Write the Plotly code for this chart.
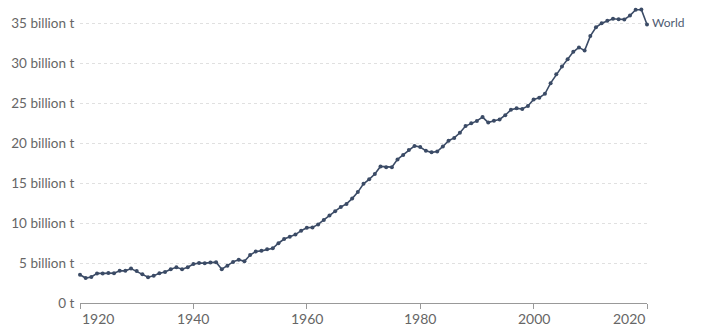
import plotly.graph_objects as go

years = list(range(1920, 2021))
emissions = [
    3.53, 3.12, 3.26, 3.70, 3.70, 3.75, 3.73, 4.02, 4.02, 4.30,
    3.99, 3.58, 3.22, 3.41, 3.71, 3.87, 4.22, 4.47, 4.22, 4.46,
    4.86, 4.99, 4.98, 5.06, 5.10, 4.22, 4.66, 5.14, 5.42, 5.21,
    6.00, 6.43, 6.52, 6.72, 6.84, 7.47, 7.99, 8.27, 8.55, 9.04,
    9.40, 9.45, 9.82, 10.38, 10.95, 11.46, 12.01, 12.39, 13.05, 13.86,
    14.90, 15.46, 16.13, 17.07, 16.98, 16.98, 17.95, 18.51, 19.13, 19.63,
    19.49, 19.02, 18.83, 18.94, 19.57, 20.29, 20.64, 21.28, 22.12, 22.48,
    22.76, 23.24, 22.56, 22.77, 22.94, 23.47, 24.16, 24.33, 24.25, 24.63,
    25.45, 25.66, 26.15, 27.48, 28.60, 29.55, 30.47, 31.40, 31.95, 31.55,
    33.36, 34.46, 34.97, 35.29, 35.53, 35.47, 35.45, 35.93, 36.65, 36.70,
    34.81,
]
series_name = "World"
y_tickvals = [0, 5, 10, 15, 20, 25, 30, 35]
y_ticktext = ["0 t", "5 billion t", "10 billion t", "15 billion t", "20 billion t",
              "25 billion t", "30 billion t", "35 billion t"]
x_tickvals = [1920, 1940, 1960, 1980, 2000, 2020]

line_color = "#3b4b66"
grey = "#666666"

fig = go.Figure()
fig.add_trace(go.Scatter(
    x=years, y=emissions, mode="lines+markers", name=series_name,
    line=dict(color=line_color, width=1.6),
    marker=dict(color=line_color, size=4),
    cliponaxis=False, showlegend=False,
))

annotations = []
for i, yr in enumerate(x_tickvals):
    anchor = "left" if i == 0 else ("right" if i == len(x_tickvals) - 1 else "center")
    annotations.append(dict(
        x=yr, y=0, xref="x", yref="paper", text=str(yr), showarrow=False,
        xanchor=anchor, yanchor="top", yshift=-5,
        font=dict(family="Lato", size=14, color=grey),
    ))
annotations.append(dict(
    x=years[-1], y=emissions[-1], xref="x", yref="y", text=series_name,
    showarrow=False, xanchor="left", yanchor="middle", xshift=3, yshift=2,
    font=dict(family="Lato", size=12, color="#4e5b72"),
))

fig.update_layout(
    width=718, height=331,
    margin=dict(l=80, r=71, t=9, b=28),
    plot_bgcolor="white", paper_bgcolor="white",
    font=dict(family="Lato", size=13.5, color=grey),
    annotations=annotations,
    xaxis=dict(
        range=[1920, 2020], tickvals=x_tickvals, showticklabels=False,
        ticks="outside", ticklen=5, tickcolor="#999999", tickwidth=1,
        showline=True, linecolor="#999999", linewidth=1,
        showgrid=False, zeroline=False,
    ),
    yaxis=dict(
        range=[0, 36.75], tickvals=y_tickvals, ticktext=y_ticktext,
        showgrid=True, gridcolor="#e0e0e0", griddash="3px,3px", gridwidth=1,
        zeroline=False, showline=False, ticks="outside", ticklen=2,
        tickcolor="white", tickfont=dict(family="Lato", size=13.5, color=grey),
    ),
)

fig.write_html("out.html")
